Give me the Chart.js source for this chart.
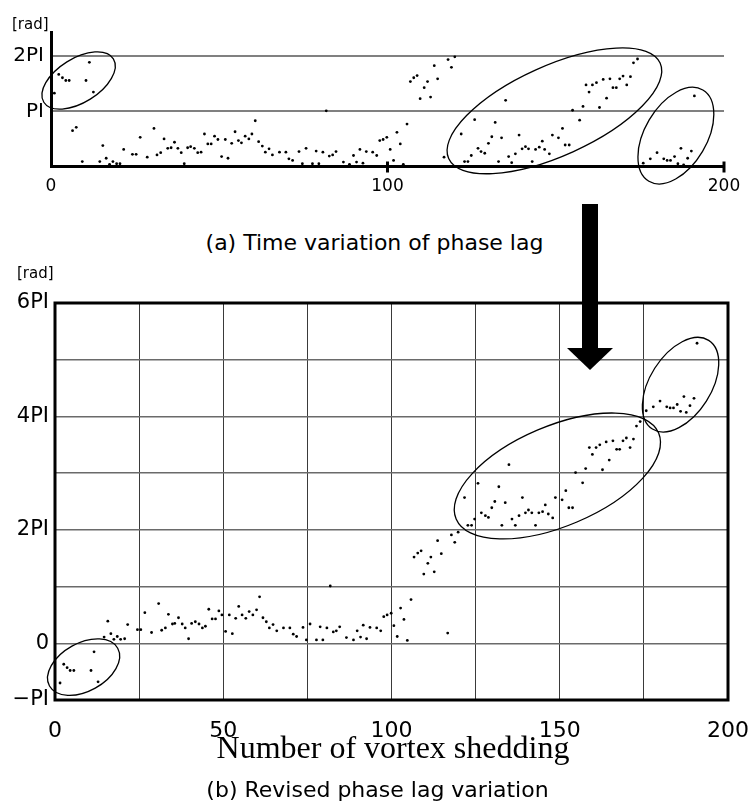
<!DOCTYPE html>
<html>
<head>
<meta charset="utf-8">
<script src="https://cdn.jsdelivr.net/npm/chart.js@4.4.0/dist/chart.umd.min.js"></script>
<style>
  body { margin: 0; background: #fff; }
  #page { position: relative; width: 749px; height: 805px; overflow: hidden; font-family: "DejaVu Sans", sans-serif; }
  .txt { position: absolute; white-space: nowrap; color: #000; }
  canvas { position: absolute; left: 0; }
  .arrow-shaft { position: absolute; left: 582px; top: 204px; width: 16px; height: 146px; background: #000; z-index: 5; }
  .arrow-head { position: absolute; left: 567px; top: 348px; width: 0; height: 0;
    border-left: 23px solid transparent; border-right: 23px solid transparent; border-top: 22px solid #000; z-index: 5; }
</style>
</head>
<body>
<div id="page">
  <canvas id="topChart" width="749" height="205" style="top:0"></canvas>
  <canvas id="bottomChart" width="749" height="460" style="top:280px"></canvas>

  <div class="txt" style="left:12px; top:17px; font-size:15px; line-height:15px;">[rad]</div>
  <div class="txt" style="left:0; width:749px; text-align:center; top:232px; font-size:22px; line-height:22px;">(a) Time variation of phase lag</div>
  <div class="txt" style="left:17px; top:266px; font-size:15px; line-height:15px;">[rad]</div>
  <div class="txt" style="left:0; width:786px; text-align:center; top:731px; font-family:'Liberation Serif', serif; font-size:32px; line-height:32px;">Number of vortex shedding</div>
  <div class="txt" style="left:0; width:755px; text-align:center; top:779px; font-size:22px; line-height:22px;">(b) Revised phase lag variation</div>

  <div class="arrow-shaft"></div>
  <div class="arrow-head"></div>
</div>

<script>
// phase lag, in units of PI
const topX = [1.0,2.3,3.4,4.4,5.4,6.4,7.5,9.3,10.4,11.4,12.6,14.5,15.4,16.4,17.4,18.4,19.5,20.5,21.6,24.2,25.3,26.5,28.6,30.6,31.5,32.6,33.6,34.7,35.7,36.7,37.7,38.7,39.6,40.6,41.5,42.6,43.6,44.6,45.6,46.6,47.6,48.6,49.6,50.7,51.8,52.6,53.7,54.7,55.7,
  56.6,57.7,58.8,59.7,60.7,61.7,62.8,63.7,64.8,65.8,67.9,69.8,70.7,71.8,73.7,74.7,75.8,77.7,78.8,79.6,80.8,81.8,82.7,83.7,84.7,86.9,88.7,89.9,90.8,91.8,92.7,93.7,95.6,96.8,97.7,98.7,99.8,100.8,101.8,102.8,103.8,104.7,105.8,106.8,107.8,108.8,109.7,110.9,111.9,112.8,113.9,114.9,116.8,118.0,119.0,120.0,121.9,122.9,123.9,124.9,125.9,126.9,
  127.8,128.9,130.0,131.0,132.0,133.0,133.9,135.1,136.0,136.9,138.0,139.1,140.0,141.0,141.9,143.0,144.0,145.1,146.0,146.7,148.1,149.0,150.8,152.0,152.8,154.0,155.0,157.1,158.1,159.0,159.9,160.9,162.1,163.0,164.1,165.1,166.1,167.0,168.0,169.0,170.0,171.1,172.2,173.1,174.3,176.0,178.1,180.1,182.1,183.1,184.1,185.3,186.3,187.2,188.0,189.2,190.3,191.2];
const topY = [1.33,1.67,1.61,1.56,1.56,0.65,0.71,0.09,1.56,1.89,1.35,0.09,0.38,0.15,0.04,0.09,0.05,0.05,0.31,0.22,0.22,0.53,0.17,0.69,0.21,0.25,0.50,0.33,0.34,0.44,0.33,0.25,0.05,0.34,0.36,0.33,0.25,0.26,0.59,0.41,0.41,0.55,0.49,0.18,0.49,0.15,0.42,0.63,0.47,
  0.43,0.55,0.50,0.59,0.83,0.45,0.37,0.26,0.32,0.21,0.26,0.26,0.14,0.11,0.27,0.05,0.33,0.05,0.28,0.05,0.26,1.01,0.19,0.21,0.27,0.08,0.04,0.20,0.08,0.31,0.06,0.27,0.26,0.20,0.47,0.49,0.53,0.31,0.11,0.62,0.41,0.04,0.77,1.54,1.61,1.65,1.23,1.43,1.54,1.26,1.83,1.59,0.17,1.94,1.80,1.99,0.59,0.09,0.09,0.20,0.85,0.33,
  0.27,0.24,0.42,0.54,0.80,0.09,0.52,1.20,0.18,0.07,0.23,0.57,0.32,0.36,0.32,0.09,0.31,0.35,0.46,0.31,0.23,0.57,0.52,0.69,0.39,0.39,1.02,0.84,1.09,1.48,1.35,1.48,1.52,1.07,1.58,1.24,1.59,1.43,1.43,1.59,1.64,1.48,1.63,1.88,1.95,0.06,0.14,0.25,0.14,0.11,0.11,0.18,0.05,0.33,0.03,0.15,0.28,1.28];

const botX = [1.5,2.6,3.6,4.5,5.6,10.7,11.6,12.8,14.6,15.7,16.6,17.5,18.5,19.5,20.7,21.6,24.5,25.5,26.7,28.7,30.8,31.7,32.8,33.7,34.9,35.6,36.7,37.8,38.7,39.7,40.6,41.7,42.8,43.8,44.7,45.7,46.7,47.7,48.7,
  49.6,50.7,51.8,52.7,53.7,54.6,55.6,56.7,57.7,58.8,59.9,60.8,61.8,62.8,63.7,64.8,65.9,67.9,69.8,70.8,71.8,73.7,74.7,75.8,77.7,78.8,79.6,80.8,81.8,82.7,83.6,84.6,86.6,88.7,89.8,90.8,91.6,92.6,93.6,95.6,96.8,97.7,98.7,99.9,100.7,101.7,102.7,103.7,104.7,105.8,106.7,107.8,108.8,109.6,110.8,111.7,112.7,113.7,114.8,116.7,117.8,118.8,119.8,
  121.7,122.7,123.8,124.7,125.7,126.7,127.9,128.8,129.8,130.7,131.9,132.8,133.8,134.9,135.8,136.8,137.9,138.9,139.8,140.7,141.7,142.8,143.8,144.9,145.7,146.6,147.9,148.7,150.7,151.8,152.7,153.8,154.7,156.8,157.7,158.8,159.7,160.8,161.9,162.7,163.8,164.7,165.8,166.9,167.8,168.8,169.8,170.9,171.9,172.8,173.9,175.7,177.8,179.8,181.8,182.8,183.8,184.9,185.9,186.9,187.6,188.7,189.9,190.8];
const botY = [-0.70,-0.37,-0.43,-0.48,-0.48,-0.48,-0.15,-0.68,0.11,0.39,0.17,0.07,0.12,0.07,0.08,0.33,0.24,0.24,0.54,0.19,0.70,0.23,0.27,0.51,0.34,0.35,0.45,0.34,0.27,0.08,0.35,0.38,0.34,0.27,0.30,0.60,0.43,0.43,0.57,
  0.50,0.21,0.50,0.17,0.44,0.65,0.50,0.44,0.56,0.50,0.59,0.82,0.45,0.38,0.27,0.33,0.22,0.27,0.27,0.16,0.12,0.28,0.06,0.34,0.06,0.29,0.06,0.27,1.01,0.20,0.22,0.29,0.10,0.06,0.22,0.11,0.32,0.08,0.28,0.27,0.22,0.47,0.50,0.53,0.31,0.12,0.62,0.42,0.05,0.77,1.52,1.59,1.63,1.22,1.41,1.52,1.26,1.81,1.58,0.18,1.91,1.78,1.96,
  2.57,2.08,2.08,2.19,2.82,2.30,2.25,2.22,2.39,2.50,2.76,2.08,2.48,3.15,2.19,2.08,2.25,2.57,2.30,2.35,2.30,2.08,2.30,2.32,2.44,2.28,2.21,2.57,2.53,2.69,2.39,2.39,3.01,2.83,3.08,3.45,3.33,3.45,3.50,3.06,3.55,3.23,3.57,3.42,3.42,3.57,3.62,3.45,3.60,3.83,3.91,4.10,4.17,4.27,4.17,4.15,4.15,4.21,4.09,4.35,4.07,4.19,4.32,5.29];

// tick values
const topXTicks = [0, 100, 200];
const topYTicks = [1, 2];
const botXLabels = [0, 50, 100, 150, 200];
const botYLabels = [-1, 0, 2, 4, 6];

// circled groups: centre in data units, radii in px, rotation in degrees
const topRings = [
  { x: 8.2, y: 1.56, rx: 41, ry: 22, rot: -32 },
  { x: 149.6, y: 1.01, rx: 116, ry: 45, rot: -24.3 },
  { x: 185.7, y: 0.56, rx: 53, ry: 31, rot: -59.4 }
];
const botRings = [
  { x: 8.5, y: -0.42, rx: 39, ry: 24, rot: -29 },
  { x: 149.3, y: 2.95, rx: 110, ry: 50, rot: -23 },
  { x: 185.9, y: 4.56, rx: 52.5, ry: 30.6, rot: -57.6 }
];

Chart.defaults.font.family = '"DejaVu Sans", sans-serif';
Chart.defaults.color = '#000';

function piLabel(v) {
  if (v === 0) return '0';
  if (v === 1) return 'PI';
  if (v === -1) return '\u2212PI';
  return v + 'PI';
}

function toPoints(xs, ys) {
  return xs.map((x, i) => ({ x: x, y: ys[i] }));
}

// fixed axis size, and no extra room for overhanging labels
function fixSize(prop, size) {
  return s => {
    s[prop] = size;
    s.paddingLeft = s.paddingRight = s.paddingTop = s.paddingBottom = 0;
  };
}

const ringPlugin = {
  id: 'rings',
  afterDatasetsDraw(chart, args, opts) {
    const ctx = chart.ctx;
    const xs = chart.scales.x, ys = chart.scales.y;
    ctx.save();
    ctx.strokeStyle = '#000';
    ctx.lineWidth = 1.3;
    (opts.list || []).forEach(e => {
      ctx.beginPath();
      ctx.ellipse(xs.getPixelForValue(e.x), ys.getPixelForValue(e.y), e.rx, e.ry, e.rot * Math.PI / 180, 0, 2 * Math.PI);
      ctx.stroke();
    });
    if (opts.frame) {
      const a = chart.chartArea;
      ctx.lineWidth = 3;
      ctx.strokeRect(a.left, a.top, a.right - a.left, a.bottom - a.top);
    }
    if (opts.marks) {
      ctx.lineWidth = 3;
      opts.marks.forEach(v => {
        const px = xs.getPixelForValue(v);
        ctx.beginPath();
        ctx.moveTo(px, chart.chartArea.bottom - 5);
        ctx.lineTo(px, chart.chartArea.bottom + 6);
        ctx.stroke();
      });
    }
    ctx.restore();
  }
};

const dotStyle = { pointRadius: 1.4, pointHoverRadius: 1.4, backgroundColor: '#000', borderWidth: 0 };

new Chart(document.getElementById('topChart'), {
  type: 'scatter',
  data: { datasets: [Object.assign({ data: toPoints(topX, topY) }, dotStyle)] },
  options: {
    responsive: false,
    animation: false,
    layout: { padding: { top: 32, right: 25, left: 0, bottom: 0 } },
    plugins: {
      legend: { display: false },
      tooltip: { enabled: false },
      rings: { list: topRings, marks: [100, 200] }
    },
    scales: {
      x: {
        type: 'linear', min: 0, max: 200,
        afterBuildTicks: s => { s.ticks = topXTicks.map(v => ({ value: v })); },
        afterFit: fixSize('height', 38.5),
        grid: { drawOnChartArea: false, drawTicks: false },
        border: { display: true, color: '#000', width: 3 },
        ticks: { padding: 10, font: { size: 17 }, maxRotation: 0 }
      },
      y: {
        min: 0, max: 2.44,
        afterBuildTicks: s => { s.ticks = topYTicks.map(v => ({ value: v })); },
        afterFit: fixSize('width', 51),
        grid: { color: '#808080', lineWidth: 2, drawTicks: false },
        border: { display: true, color: '#000', width: 3 },
        ticks: { padding: 7, font: { size: 20 }, callback: v => piLabel(v) }
      }
    }
  },
  plugins: [ringPlugin]
});

new Chart(document.getElementById('bottomChart'), {
  type: 'scatter',
  data: { datasets: [Object.assign({ data: toPoints(botX, botY) }, dotStyle)] },
  options: {
    responsive: false,
    animation: false,
    layout: { padding: { top: 23, right: 21, left: 0, bottom: 0 } },
    plugins: {
      legend: { display: false },
      tooltip: { enabled: false },
      rings: { list: botRings, frame: true }
    },
    scales: {
      x: {
        type: 'linear', min: 0, max: 200,
        afterFit: fixSize('height', 40),
        grid: { color: '#3a3a3a', lineWidth: 1, drawTicks: false },
        border: { display: false },
        ticks: { stepSize: 25, padding: 18, font: { size: 22 }, maxRotation: 0, autoSkip: false,
          callback: v => botXLabels.includes(v) ? String(v) : '' }
      },
      y: {
        min: -1, max: 6,
        afterFit: fixSize('width', 55),
        grid: { color: '#6a6a6a', lineWidth: 1.5, drawTicks: false },
        border: { display: false },
        ticks: { stepSize: 1, padding: 6, font: { size: 21 }, autoSkip: false,
          callback: v => botYLabels.includes(v) ? piLabel(v) : '' }
      }
    }
  },
  plugins: [ringPlugin]
});
</script>
</body>
</html>
